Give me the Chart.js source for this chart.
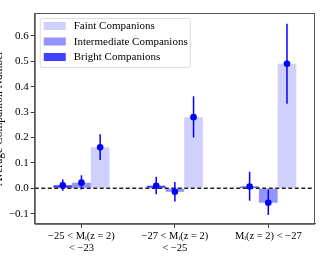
<!DOCTYPE html>
<html>
<head>
<meta charset="utf-8">
<script src="https://cdn.jsdelivr.net/npm/chart.js@4.4.1/dist/chart.umd.min.js"></script>
<style>
  html, body { margin: 0; padding: 0; background: #fff; overflow: hidden; }
  #wrap { position: relative; width: 337px; height: 263px; margin-left: -8px; }
</style>
</head>
<body>
<div id="wrap"><canvas id="compChart"></canvas></div>
<script>
// categorías (rango de magnitud)
const categories = [
    ['\u221225 < M\u1d62(z = 2)', '< \u221223'],
    ['\u221227 < M\u1d62(z = 2)', '< \u221225'],
    ['M\u1d62(z = 2) < \u221227']
];
const seriesNames = ['Bright Companions', 'Intermediate Companions', 'Faint Companions'];

// valores medios por serie
const brightVals = [0.012, 0.010, 0.007];
const intermVals = [0.022, -0.014, -0.057];
const faintVals  = [0.161, 0.280, 0.490];

// barras de error (inferior, superior)
const brightLow  = [-0.010, -0.024, -0.049];
const brightHigh = [0.034, 0.045, 0.065];
const intermLow  = [-0.005, -0.052, -0.105];
const intermHigh = [0.051, 0.025, -0.005];
const faintLow   = [0.111, 0.200, 0.333];
const faintHigh  = [0.213, 0.362, 0.648];

const yTicks = [-0.1, 0.0, 0.1, 0.2, 0.3, 0.4, 0.5, 0.6];

const barColors = ['rgba(30,30,255,0.85)', 'rgba(60,60,255,0.55)', 'rgba(80,80,255,0.27)'];
const lows = [brightLow, intermLow, faintLow];
const highs = [brightHigh, intermHigh, faintHigh];

const serif = "'Liberation Serif', 'DejaVu Serif', serif";

// Plugin: línea cero discontinua, barras de error y leyenda
const extrasPlugin = {
    id: 'extras',
    afterDatasetsDraw(chart) {
        const ctx = chart.ctx;
        const ys = chart.scales.y;
        const area = chart.chartArea;

        // línea discontinua en y = 0
        const y0 = ys.getPixelForValue(0);
        ctx.save();
        ctx.strokeStyle = '#222';
        ctx.lineWidth = 1.3;
        ctx.setLineDash([4, 2.5]);
        ctx.beginPath();
        ctx.moveTo(area.left, y0);
        ctx.lineTo(area.right, y0);
        ctx.stroke();
        ctx.restore();

        // barras de error y puntos
        chart.data.datasets.forEach((ds, di) => {
            const meta = chart.getDatasetMeta(di);
            meta.data.forEach((bar, i) => {
                const x = bar.x;
                ctx.save();
                ctx.strokeStyle = '#0000ff';
                ctx.fillStyle = '#0000ff';
                ctx.lineWidth = 1.5;
                ctx.beginPath();
                ctx.moveTo(x, ys.getPixelForValue(lows[di][i]));
                ctx.lineTo(x, ys.getPixelForValue(highs[di][i]));
                ctx.stroke();
                ctx.beginPath();
                ctx.arc(x, ys.getPixelForValue(ds.data[i]), 3.3, 0, Math.PI * 2);
                ctx.fill();
                ctx.restore();
            });
        });

        // leyenda dentro del área
        const lx = area.left + 5, ly = area.top + 5;
        const w = 150, h = 49;
        ctx.save();
        ctx.fillStyle = 'rgba(255,255,255,0.9)';
        ctx.strokeStyle = '#dddddd';
        ctx.lineWidth = 1;
        ctx.beginPath();
        ctx.roundRect(lx + 0.5, ly + 0.5, w, h, 2);
        ctx.fill();
        ctx.stroke();
        ctx.font = "11px " + serif;
        ctx.textBaseline = 'middle';
        const order = [2, 1, 0];
        order.forEach((di, k) => {
            const ry = ly + 8 + k * 15.5;
            ctx.fillStyle = barColors[di];
            ctx.fillRect(lx + 4, ry - 4, 22, 8);
            ctx.fillStyle = '#000';
            ctx.fillText(seriesNames[di], lx + 34, ry + 0.5);
        });
        ctx.restore();
    }
};

const ctx = document.getElementById('compChart').getContext('2d');
new Chart(ctx, {
    type: 'bar',
    data: {
        labels: categories,
        datasets: [
            { label: seriesNames[0], data: brightVals, backgroundColor: barColors[0] },
            { label: seriesNames[1], data: intermVals, backgroundColor: barColors[1] },
            { label: seriesNames[2], data: faintVals, backgroundColor: barColors[2] }
        ]
    },
    options: {
        responsive: true,
        maintainAspectRatio: false,
        animation: false,
        categoryPercentage: 0.6,
        barPercentage: 1.0,
        layout: { padding: { top: 13, right: 14, bottom: 6, left: 0 } },
        plugins: {
            legend: { display: false },
            tooltip: { enabled: false }
        },
        scales: {
            x: {
                offset: true,
                border: { display: true, color: '#555', width: 1 },
                grid: { offset: false, drawOnChartArea: false, tickLength: 4, color: '#333' },
                ticks: {
                    color: '#000',
                    font: { family: serif, size: 10.5 },
                    padding: 2,
                    maxRotation: 0
                }
            },
            y: {
                min: -0.14,
                max: 0.69,
                afterBuildTicks(axis) {
                    axis.ticks = yTicks.map(v => ({ value: v }));
                },
                border: { display: true, color: '#555', width: 1 },
                grid: { drawOnChartArea: false, tickLength: 4, color: '#333' },
                ticks: {
                    color: '#000',
                    font: { family: serif, size: 11 },
                    padding: 2,
                    callback: v => v.toFixed(1).replace('-0.0', '0.0').replace('-', '\u2212')
                },
                title: {
                    display: true,
                    text: 'Average Companion Number',
                    color: '#000',
                    font: { family: serif, size: 11.5 },
                    padding: { top: 0, bottom: 1 }
                }
            }
        }
    },
    plugins: [extrasPlugin, {
        id: 'frame',
        afterDraw(chart) {
            const a = chart.chartArea;
            const c = chart.ctx;
            c.save();
            c.strokeStyle = '#555';
            c.lineWidth = 1;
            c.strokeRect(a.left + 0.5, a.top + 0.5, a.right - a.left - 1, a.bottom - a.top);
            c.restore();
        }
    }]
});
</script>
</body>
</html>
